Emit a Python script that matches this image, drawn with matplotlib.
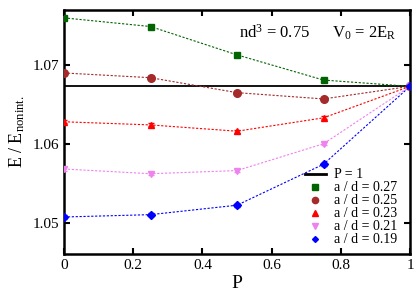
import matplotlib
matplotlib.use("Agg")
import matplotlib.pyplot as plt
from matplotlib.lines import Line2D

plt.rcParams['font.family'] = ['Liberation Serif', 'DejaVu Serif']
plt.rcParams['mathtext.fontset'] = 'custom'
plt.rcParams['mathtext.rm'] = 'Liberation Serif'
plt.rcParams['mathtext.it'] = 'Liberation Serif'

P = [0, 0.25, 0.5, 0.75, 1.0]
labels = ["a / d = 0.27", "a / d = 0.25", "a / d = 0.23", "a / d = 0.21", "a / d = 0.19"]
E_027 = [1.0760, 1.0749, 1.0713, 1.0681, 1.0673]
E_025 = [1.0690, 1.0684, 1.0665, 1.0657, 1.0673]
E_023 = [1.0628, 1.0624, 1.0616, 1.0633, 1.0673]
E_021 = [1.0568, 1.0562, 1.0566, 1.0600, 1.0673]
E_019 = [1.0507, 1.0510, 1.0522, 1.0574, 1.0673]
E_P1 = 1.0673
err = [0.0002, 0.0002, 0.0002, 0.0002, 0.0002]

series = [E_027, E_025, E_023, E_021, E_019]
colors = ['#006400', '#a52a2a', '#ff0000', '#ee82ee', '#0000ff']
markers = ['s', 'o', '^', 'v', 'D']
msizes = [5, 5.5, 5, 5, 4]

fig = plt.figure(figsize=(4.15, 2.91), dpi=100)
ax = fig.add_axes([64/415, 1-254/291, 346/415, 244/291])

ax.axhline(E_P1, color='black', lw=1.3, zorder=1)
handles = [Line2D([0], [0], color='black', lw=2)]
for ys, c, m, ms in zip(series, colors, markers, msizes):
    ax.errorbar(P, ys, yerr=err, color=c, marker=m, markersize=ms, ls=(0, (2, 1.5)),
                lw=0.8, capsize=2.5, elinewidth=0.6, zorder=3)
    handles.append(Line2D([0], [0], color=c, marker=m, markersize=ms - 1, ls='none'))

ax.set_xlim(0, 1)
ax.set_ylim(1.046, 1.077)
ax.set_xticks([0, 0.2, 0.4, 0.6, 0.8, 1])
ax.set_xticklabels(['0', '0.2', '0.4', '0.6', '0.8', '1'])
ax.set_yticks([1.05, 1.06, 1.07])
ax.tick_params(direction='in', top=True, right=True, length=4, width=1.5, labelsize=11)
for s in ax.spines.values():
    s.set_linewidth(1.8)

ax.set_xlabel('P', fontsize=14, labelpad=2)
ax.set_ylabel(r'E / E$_{\mathrm{nonint.}}$', fontsize=13, labelpad=4)

ax.text(0.505, 0.905, r'nd$^{3}$ = 0.75', transform=ax.transAxes, fontsize=12, va='center')
ax.text(0.775, 0.905, r'V$_0$ = 2E$_\mathrm{R}$', transform=ax.transAxes, fontsize=12, va='center')

leg = ax.legend(handles, ['P = 1'] + labels, loc='lower right', frameon=False, fontsize=10,
                handlelength=1.5, handletextpad=0.6, labelspacing=0.0, borderaxespad=0.15,
                bbox_to_anchor=(0.985, 0.0))

fig.savefig('out.png', dpi=100)
